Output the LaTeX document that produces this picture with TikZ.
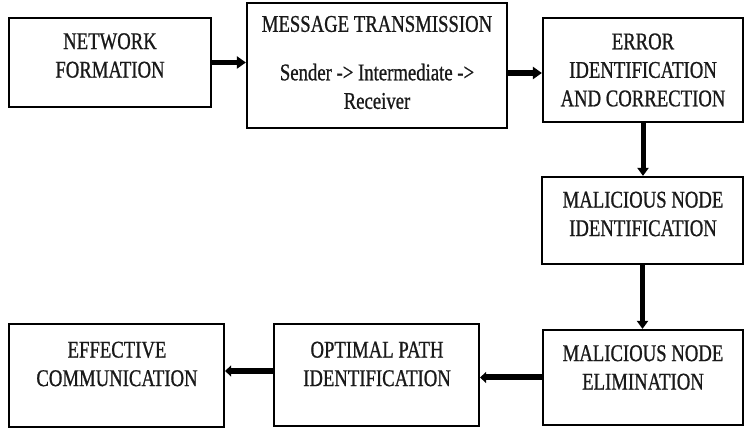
\documentclass[tikz,border=0pt]{standalone}
\usepackage{fontspec}
\setmainfont{Liberation Serif}[FakeStretch=0.78,FakeBold=0.8]
\usetikzlibrary{arrows.meta}
\tikzset{
  box/.style={draw=black, line width=2.2pt, inner sep=0pt, fill=white},
  lbl/.style={align=center, inner sep=0pt, text=black!90,
    font=\fontsize{24}{28.5}\selectfont},
  arr/.style={line width=5.5pt, -{Triangle[length=9pt,width=12pt]}},
  varr/.style={line width=5pt, -{Triangle[length=8pt,width=11pt]}},
  larr/.style={line width=6pt, -{Triangle[length=6pt,width=11pt]}}
}
\begin{document}
\begin{tikzpicture}[x=1pt,y=-1pt]
\useasboundingbox[fill=white] (0,0) rectangle (753,435);
% boxes
\node[box, minimum width=202pt, minimum height=89pt]  (b1) at (110,62.5) {};
\node[box, minimum width=260pt, minimum height=125pt] (b2) at (377,65.5) {};
\node[box, minimum width=200pt, minimum height=104pt] (b3) at (643,70) {};
\node[box, minimum width=201pt, minimum height=87pt]  (b4) at (642.5,220.5) {};
\node[box, minimum width=200pt, minimum height=95pt]  (b5) at (643,377.5) {};
\node[box, minimum width=205pt, minimum height=102pt] (b6) at (376.5,375) {};
\node[box, minimum width=215pt, minimum height=103pt] (b7) at (116.5,375.5) {};
% labels
\node[lbl] (t1) at (110,55.5) {NETWORK\\FORMATION};
\node[lbl] (t2) at (377,62.5) {MESSAGE TRANSMISSION\\[20pt]Sender -> Intermediate ->\\Receiver};
\node[lbl] (t3) at (643,70) {ERROR\\IDENTIFICATION\\AND CORRECTION};
\node[lbl] (t4) at (643,214) {MALICIOUS NODE\\IDENTIFICATION};
\node[lbl] (t5) at (643,367.5) {MALICIOUS NODE\\ELIMINATION};
\node[lbl] (t6) at (377,364) {OPTIMAL PATH\\IDENTIFICATION};
\node[lbl] (t7) at (117,364) {EFFECTIVE\\COMMUNICATION};
% connectors
\draw[arr] (b1.east) -- (b1.east -| b2.west);
\draw[arr] ([yshift=-3pt]b3.west -| b2.east) -- ([yshift=-3pt]b3.west);
\draw[varr] (b3.south) -- (b3.south |- b4.north);
\draw[varr] (b4.south) -- (b4.south |- b5.north);
\draw[larr] (b5.west) -- (b5.west -| b6.east);
\draw[larr] ([yshift=4pt]b6.west) -- ([yshift=4pt]b6.west -| b7.east);
\end{tikzpicture}
\end{document}
